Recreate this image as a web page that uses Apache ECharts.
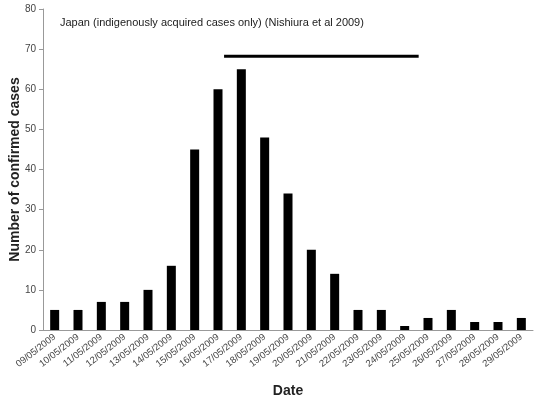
<!DOCTYPE html>
<html><head><meta charset="utf-8">
<script src="https://cdn.jsdelivr.net/npm/echarts@6/dist/echarts.min.js"></script>
<style>html,body{margin:0;padding:0;background:#fff}#c{width:545px;height:401px}</style>
</head><body><div id="c"></div>
<script>
const dates = ["09/05/2009","10/05/2009","11/05/2009","12/05/2009","13/05/2009","14/05/2009","15/05/2009","16/05/2009","17/05/2009","18/05/2009","19/05/2009","20/05/2009","21/05/2009","22/05/2009","23/05/2009","24/05/2009","25/05/2009","26/05/2009","27/05/2009","28/05/2009","29/05/2009"];
const cases = [5,5,7,7,10,16,45,60,65,48,34,20,14,5,5,1,3,5,2,2,3];
const barLine = [[7.76,68.2],[16.1,68.2]];
const chart = echarts.init(document.getElementById('c'));
chart.setOption({
  animation:false,
  grid:{left:43,right:12,top:9,bottom:71,containLabel:false,outerBoundsMode:'none'},
  title:{text:'Japan (indigenously acquired cases only) (Nishiura et al 2009)',left:55,top:12,textStyle:{fontSize:11,fontWeight:'normal',color:'#222',fontFamily:'Liberation Sans'}},
  xAxis:[{type:'category',data:dates,
    axisLine:{lineStyle:{color:'#999'}},
    axisTick:{lineStyle:{color:'#999'},length:4},
    axisLabel:{rotate:38,fontSize:9.5,color:'#444',fontFamily:'Liberation Sans',interval:0,margin:6},
    name:'Date',nameLocation:'middle',nameGap:54,nameMoveOverlap:false,nameTextStyle:{fontSize:14,fontWeight:'bold',color:'#222',fontFamily:'Liberation Sans'}},
    {type:'value',min:0,max:21,show:false}],
  yAxis:{type:'value',min:0,max:80,interval:10,
    axisLine:{show:true,lineStyle:{color:'#999'}},
    axisTick:{show:true,length:4,lineStyle:{color:'#999'}},
    splitLine:{show:false},
    axisLabel:{fontSize:10,color:'#444',fontFamily:'Liberation Sans',margin:7},
    name:'Number of confirmed cases',nameLocation:'middle',nameGap:21,nameMoveOverlap:false,nameTextStyle:{fontSize:14,fontWeight:'bold',color:'#222',fontFamily:'Liberation Sans'}},
  series:[
    {type:'bar',data:cases,barWidth:9,itemStyle:{color:'#000'},xAxisIndex:0},
    {type:'line',data:barLine,xAxisIndex:1,symbol:'none',lineStyle:{color:'#000',width:3}}
  ]
});
</script></body></html>
